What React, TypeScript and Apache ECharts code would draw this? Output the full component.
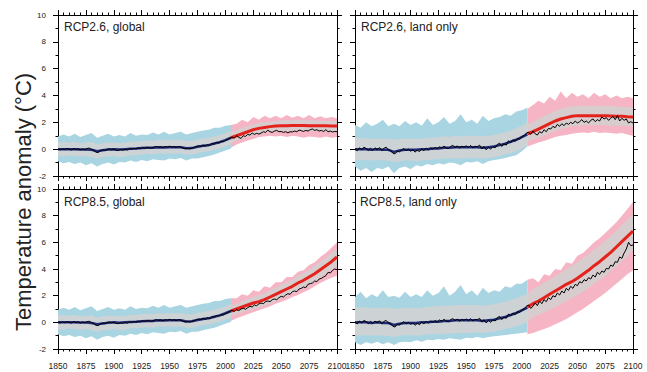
import React, { useEffect, useRef } from "react";
import * as echarts from "echarts";

// ---------- years ----------
const histYears = [
  1850, 1855, 1860, 1865, 1870, 1875, 1880, 1885, 1890, 1895,
  1900, 1905, 1910, 1915, 1920, 1925, 1930, 1935, 1940, 1945,
  1950, 1955, 1960, 1965, 1970, 1975, 1980, 1985, 1990, 1995,
  2000, 2005,
];
const futYears = [
  2005, 2010, 2015, 2020, 2025, 2030, 2035, 2040, 2045, 2050,
  2055, 2060, 2065, 2070, 2075, 2080, 2085, 2090, 2095, 2100,
];
// single-run curves are sampled every second year: 1850, 1852, ..., 2100
const runYears: number[] = [];
for (let y = 1850; y <= 2100; y += 2) runYears.push(y);

// ---------- historical, global ----------
// single run, 1850-2004 (every 2 years)
const globalHistRun = [
  0.0, -0.05, 0.02, -0.03, 0.05, 0.0, -0.06, 0.03, -0.02, 0.04,
  -0.05, 0.02, -0.04, 0.05, 0.08, -0.02, -0.08, -0.22, -0.25, -0.12,
  -0.05, -0.1, -0.02, 0.03, -0.04, 0.02, -0.08, -0.1, -0.03, -0.07,
  -0.02, -0.06, 0.04, 0.0, 0.06, 0.02, 0.08, 0.04, 0.12, 0.07,
  0.14, 0.1, 0.08, 0.15, 0.2, 0.14, 0.18, 0.12, 0.2, 0.16,
  0.22, 0.15, 0.19, 0.13, 0.2, 0.16, 0.08, 0.03, 0.06, 0.02,
  0.08, 0.12, 0.2, 0.25, 0.2, 0.3, 0.22, 0.35, 0.28, 0.42,
  0.38, 0.5, 0.47, 0.58, 0.55, 0.65, 0.72, 0.82,
];
const globalHistMean = [0.0, 0.0, 0.0, 0.0, -0.02, -0.02, -0.05, -0.15, -0.08, -0.03, 0.0, -0.03, 0.0, 0.03, 0.05, 0.08, 0.1, 0.1, 0.15, 0.13, 0.15, 0.15, 0.15, 0.07, 0.08, 0.18, 0.25, 0.3, 0.42, 0.52, 0.68, 0.85];
const globalHistHi = [0.95, 1.1, 0.95, 1.15, 0.9, 1.05, 1.2, 0.85, 1.0, 1.15, 0.95, 1.05, 0.95, 1.2, 1.0, 1.1, 1.05, 1.25, 1.1, 1.3, 1.1, 1.2, 1.3, 1.1, 1.2, 1.3, 1.4, 1.45, 1.6, 1.6, 1.75, 1.8];
const globalHistLo = [-0.9, -1.05, -0.95, -1.1, -1.0, -1.2, -1.05, -1.3, -1.1, -1.0, -1.15, -0.95, -1.0, -0.85, -0.95, -0.8, -0.9, -0.75, -0.8, -0.85, -0.7, -0.75, -0.65, -0.85, -0.7, -0.7, -0.6, -0.5, -0.4, -0.25, -0.1, 0.05];
const globalHistInnerHi = [0.5, 0.55, 0.5, 0.55, 0.45, 0.5, 0.55, 0.35, 0.45, 0.5, 0.5, 0.45, 0.5, 0.55, 0.55, 0.6, 0.65, 0.6, 0.7, 0.65, 0.7, 0.65, 0.7, 0.6, 0.6, 0.7, 0.8, 0.85, 0.95, 1.05, 1.2, 1.35];
const globalHistInnerLo = [-0.5, -0.55, -0.45, -0.5, -0.55, -0.5, -0.6, -0.7, -0.6, -0.55, -0.5, -0.6, -0.55, -0.45, -0.45, -0.4, -0.35, -0.4, -0.3, -0.35, -0.3, -0.35, -0.3, -0.4, -0.4, -0.3, -0.2, -0.15, -0.05, 0.05, 0.2, 0.35];

// ---------- historical, land ----------
const landHistRun = [
  0.0, -0.12, 0.1, -0.05, 0.15, 0.05, -0.1, 0.08, -0.08, 0.1,
  -0.05, 0.12, -0.1, 0.06, 0.15, -0.05, -0.1, -0.3, -0.35, -0.15,
  -0.2, -0.05, 0.05, -0.12, 0.0, -0.15, -0.05, -0.22, -0.08, -0.18,
  0.02, -0.12, 0.08, -0.05, 0.1, 0.0, 0.12, 0.05, 0.18, 0.08,
  0.22, 0.1, 0.05, 0.2, 0.28, 0.12, 0.25, 0.08, 0.22, 0.15,
  0.25, 0.12, 0.28, 0.1, 0.22, 0.18, 0.3, 0.05, 0.2, -0.05,
  0.15, 0.0, 0.2, 0.1, 0.35, 0.45, 0.2, 0.4, 0.3, 0.62,
  0.5, 0.7, 0.58, 0.8, 0.75, 0.95, 1.0, 1.2,
];
const landHistMean = [0.0, 0.0, 0.0, -0.05, 0.0, -0.05, -0.05, -0.2, -0.1, -0.05, -0.05, -0.05, 0.0, 0.0, 0.05, 0.05, 0.1, 0.1, 0.15, 0.15, 0.15, 0.15, 0.15, 0.1, 0.15, 0.2, 0.3, 0.4, 0.55, 0.7, 0.9, 1.1];
const land26HistHi = [1.8, 1.6, 2.0, 1.7, 1.9, 2.2, 1.7, 1.9, 1.7, 2.1, 1.8, 2.0, 1.75, 2.3, 1.8, 2.0, 2.4, 1.9, 2.1, 2.6, 2.0, 2.2, 1.9, 2.5, 2.1, 2.3, 2.4, 2.6, 2.5, 2.8, 2.9, 3.1];
const land26HistLo = [-1.3, -1.6, -1.4, -1.7, -1.4, -1.5, -1.3, -1.8, -1.4, -1.3, -1.5, -1.2, -1.3, -1.1, -1.2, -1.05, -1.15, -1.0, -1.05, -1.2, -0.95, -1.0, -0.9, -1.1, -0.9, -0.8, -0.75, -0.65, -0.55, -0.45, -0.15, 0.2];
const land26HistInnerHi = [0.8, 0.85, 0.8, 0.75, 0.8, 0.75, 0.8, 0.7, 0.75, 0.8, 0.8, 0.75, 0.8, 0.85, 0.85, 0.9, 0.95, 0.9, 1.0, 0.95, 1.0, 1.0, 1.0, 0.95, 1.0, 1.05, 1.15, 1.25, 1.4, 1.55, 1.75, 2.0];
const land26HistInnerLo = [-0.8, -0.85, -0.8, -0.85, -0.8, -0.85, -0.85, -0.95, -0.9, -0.85, -0.85, -0.9, -0.85, -0.8, -0.75, -0.75, -0.7, -0.7, -0.65, -0.7, -0.65, -0.65, -0.65, -0.7, -0.65, -0.6, -0.5, -0.4, -0.3, -0.15, 0.05, 0.3];
const land85HistHi = [1.9, 2.3, 1.8, 2.1, 1.9, 2.4, 1.9, 2.0, 1.85, 2.3, 1.9, 2.1, 1.9, 2.4, 2.0, 2.2, 2.7, 2.0, 2.3, 2.8, 2.1, 2.4, 2.0, 2.6, 2.2, 2.4, 2.3, 2.7, 2.6, 2.9, 2.9, 3.2];
const land85HistLo = [-1.5, -1.7, -1.5, -1.6, -1.45, -1.65, -1.5, -1.7, -1.5, -1.45, -1.5, -1.35, -1.45, -1.3, -1.35, -1.25, -1.3, -1.2, -1.25, -1.3, -1.15, -1.2, -1.1, -1.2, -1.1, -1.05, -1.0, -0.95, -0.9, -0.85, -0.8, -0.75];
const land85HistInnerHi = [1.1, 1.15, 1.1, 1.1, 1.05, 1.1, 1.1, 1.0, 1.05, 1.1, 1.1, 1.05, 1.1, 1.15, 1.2, 1.2, 1.25, 1.25, 1.3, 1.3, 1.3, 1.3, 1.3, 1.25, 1.3, 1.35, 1.45, 1.55, 1.65, 1.8, 1.95, 2.1];
const land85HistInnerLo = [-0.95, -1.0, -0.95, -1.0, -0.95, -1.0, -1.0, -1.1, -1.0, -0.95, -0.95, -1.0, -0.95, -0.9, -0.9, -0.85, -0.85, -0.85, -0.8, -0.8, -0.8, -0.8, -0.75, -0.8, -0.75, -0.7, -0.6, -0.5, -0.4, -0.3, -0.15, 0.0];

// ---------- RCP2.6, global ----------
const g26Mean = [0.85, 1.0, 1.15, 1.3, 1.45, 1.55, 1.62, 1.68, 1.72, 1.74, 1.75, 1.76, 1.76, 1.76, 1.75, 1.75, 1.74, 1.74, 1.73, 1.72];
// single run, 2006-2100 (every 2 years)
const g26Run = [
  0.9, 0.82, 1.0, 0.88, 0.8, 1.0, 0.95, 1.1, 1.05, 1.2,
  1.1, 1.18, 1.12, 1.2, 1.3, 1.25, 1.42, 1.3, 1.25, 1.35,
  1.4, 1.3, 1.32, 1.25, 1.3, 1.22, 1.3, 1.28, 1.35, 1.3,
  1.42, 1.38, 1.32, 1.4, 1.35, 1.45, 1.5, 1.4, 1.45, 1.35,
  1.4, 1.32, 1.45, 1.3, 1.35, 1.28, 1.32, 1.3,
];
const g26Hi = [1.8, 1.9, 2.2, 2.0, 2.4, 2.2, 2.5, 2.3, 2.5, 2.3, 2.55, 2.35, 2.5, 2.3, 2.55, 2.3, 2.45, 2.3, 2.4, 2.3];
const g26Lo = [0.1, 0.35, 0.5, 0.65, 0.75, 0.9, 0.95, 1.0, 0.95, 1.0, 0.9, 1.0, 0.95, 0.85, 0.95, 0.9, 0.85, 0.95, 0.85, 0.9];
const g26InnerHi = [1.3, 1.4, 1.6, 1.7, 1.85, 1.95, 2.0, 2.05, 2.1, 2.15, 2.15, 2.15, 2.2, 2.15, 2.15, 2.15, 2.1, 2.1, 2.1, 2.1];
const g26InnerLo = [0.45, 0.65, 0.8, 0.95, 1.05, 1.15, 1.25, 1.3, 1.35, 1.35, 1.35, 1.4, 1.35, 1.35, 1.35, 1.35, 1.35, 1.3, 1.3, 1.3];

// ---------- RCP8.5, global ----------
const g85Mean = [0.85, 1.0, 1.15, 1.3, 1.45, 1.55, 1.7, 1.9, 2.1, 2.3, 2.5, 2.7, 2.95, 3.15, 3.4, 3.65, 3.95, 4.25, 4.55, 4.9];
const g85Run = [
  0.9, 0.82, 0.95, 0.88, 1.0, 1.05, 0.98, 1.1, 1.2, 1.15,
  1.3, 1.25, 1.38, 1.45, 1.4, 1.55, 1.6, 1.55, 1.7, 1.75,
  1.7, 1.85, 1.95, 1.9, 2.05, 2.15, 2.1, 2.3, 2.35, 2.3,
  2.5, 2.55, 2.65, 2.6, 2.85, 2.9, 2.95, 3.1, 3.05, 3.25,
  3.3, 3.4, 3.5, 3.75, 3.7, 3.9, 4.0, 3.95,
];
const g85Hi = [1.8, 1.8, 2.1, 2.0, 2.4, 2.3, 2.7, 2.6, 3.0, 3.0, 3.4, 3.4, 3.8, 3.9, 4.3, 4.5, 4.9, 5.2, 5.6, 6.0];
const g85Lo = [0.1, 0.3, 0.45, 0.6, 0.75, 0.9, 1.05, 1.2, 1.4, 1.55, 1.7, 1.9, 2.05, 2.25, 2.45, 2.7, 2.95, 3.15, 3.35, 3.5];
const g85InnerHi = [1.3, 1.4, 1.6, 1.75, 1.9, 2.05, 2.2, 2.4, 2.6, 2.8, 3.0, 3.2, 3.5, 3.7, 3.95, 4.25, 4.55, 4.85, 5.2, 5.5];
const g85InnerLo = [0.45, 0.6, 0.75, 0.9, 1.0, 1.1, 1.25, 1.4, 1.6, 1.8, 2.0, 2.2, 2.4, 2.6, 2.85, 3.05, 3.35, 3.65, 3.9, 4.25];

// ---------- RCP2.6, land only ----------
const l26Mean = [1.15, 1.3, 1.5, 1.7, 1.9, 2.1, 2.25, 2.35, 2.45, 2.5, 2.5, 2.5, 2.5, 2.5, 2.5, 2.48, 2.45, 2.45, 2.42, 2.4];
const l26Run = [
  1.25, 1.1, 1.35, 1.15, 1.05, 1.3, 1.2, 1.45, 1.3, 1.55,
  1.5, 1.7, 1.6, 1.85, 1.7, 1.9, 1.75, 1.95, 1.85, 2.0,
  1.9, 2.1, 1.95, 2.05, 2.2, 2.0, 2.1, 1.95, 2.15, 2.25,
  2.05, 2.2, 2.1, 2.4, 2.25, 2.35, 2.15, 2.3, 2.45, 2.2,
  2.5, 2.1, 2.3, 2.15, 2.25, 1.95, 2.05, 1.95,
];
const l26Hi = [3.0, 3.3, 3.6, 3.4, 3.9, 3.6, 4.3, 3.8, 4.2, 3.9, 4.1, 3.8, 4.2, 3.9, 4.1, 3.8, 4.0, 3.8, 3.9, 3.8];
const l26Lo = [0.2, 0.35, 0.5, 0.6, 0.75, 0.9, 1.0, 1.05, 1.15, 1.2, 1.25, 1.2, 1.3, 1.2, 1.25, 1.2, 1.15, 1.2, 1.1, 1.0];
const l26InnerHi = [1.9, 2.0, 2.25, 2.45, 2.65, 2.85, 3.0, 3.1, 3.2, 3.2, 3.25, 3.2, 3.25, 3.2, 3.25, 3.2, 3.2, 3.15, 3.15, 3.1];
const l26InnerLo = [0.6, 0.7, 0.85, 1.0, 1.2, 1.35, 1.5, 1.6, 1.7, 1.75, 1.8, 1.8, 1.8, 1.8, 1.8, 1.75, 1.75, 1.75, 1.7, 1.7];

// ---------- RCP8.5, land only ----------
const l85Mean = [1.15, 1.4, 1.6, 1.85, 2.1, 2.35, 2.6, 2.85, 3.05, 3.3, 3.6, 3.9, 4.25, 4.55, 4.9, 5.25, 5.65, 6.05, 6.45, 6.85];
const l85Run = [
  1.3, 1.05, 1.2, 1.45, 1.25, 1.6, 1.4, 1.7, 1.55, 1.85,
  1.7, 2.0, 1.9, 2.2, 2.05, 2.35, 2.2, 2.55, 2.4, 2.7,
  2.55, 2.85, 2.75, 3.05, 2.95, 3.2, 3.1, 3.35, 3.25, 3.55,
  3.4, 3.75, 3.6, 3.85, 3.75, 4.05, 4.0, 4.3, 4.2, 4.55,
  4.5, 4.9, 4.8, 5.2, 5.5, 6.0, 5.75, 5.8,
];
const l85Hi = [3.2, 3.3, 3.0, 3.6, 3.5, 4.0, 3.9, 4.5, 4.4, 5.0, 5.2, 5.6, 6.0, 6.3, 6.7, 7.1, 7.5, 8.0, 8.5, 9.0];
const l85Lo = [-0.9, -0.8, -0.65, -0.5, -0.35, -0.15, 0.05, 0.25, 0.5, 0.75, 1.0, 1.3, 1.6, 1.9, 2.2, 2.55, 2.9, 3.25, 3.6, 3.9];
const l85InnerHi = [2.1, 2.5, 2.7, 2.95, 3.2, 3.45, 3.7, 4.0, 4.25, 4.5, 4.8, 5.1, 5.45, 5.75, 6.1, 6.45, 6.85, 7.3, 7.7, 8.1];
const l85InnerLo = [0.0, 0.4, 0.55, 0.75, 0.95, 1.15, 1.35, 1.6, 1.8, 2.05, 2.3, 2.6, 2.9, 3.2, 3.5, 3.85, 4.2, 4.6, 5.0, 5.4];

const panelTitles = ["RCP2.6, global", "RCP2.6, land only", "RCP8.5, global", "RCP8.5, land only"];
const yAxisTitle = "Temperature anomaly (°C)";

type Block = { run: number[]; mean: number[]; hi: number[]; lo: number[]; innerHi: number[]; innerLo: number[] };

const panels: { hist: Block; fut: Block }[] = [
  {
    hist: { run: globalHistRun, mean: globalHistMean, hi: globalHistHi, lo: globalHistLo, innerHi: globalHistInnerHi, innerLo: globalHistInnerLo },
    fut: { run: g26Run, mean: g26Mean, hi: g26Hi, lo: g26Lo, innerHi: g26InnerHi, innerLo: g26InnerLo },
  },
  {
    hist: { run: landHistRun, mean: landHistMean, hi: land26HistHi, lo: land26HistLo, innerHi: land26HistInnerHi, innerLo: land26HistInnerLo },
    fut: { run: l26Run, mean: l26Mean, hi: l26Hi, lo: l26Lo, innerHi: l26InnerHi, innerLo: l26InnerLo },
  },
  {
    hist: { run: globalHistRun, mean: globalHistMean, hi: globalHistHi, lo: globalHistLo, innerHi: globalHistInnerHi, innerLo: globalHistInnerLo },
    fut: { run: g85Run, mean: g85Mean, hi: g85Hi, lo: g85Lo, innerHi: g85InnerHi, innerLo: g85InnerLo },
  },
  {
    hist: { run: landHistRun, mean: landHistMean, hi: land85HistHi, lo: land85HistLo, innerHi: land85HistInnerHi, innerLo: land85HistInnerLo },
    fut: { run: l85Run, mean: l85Mean, hi: l85Hi, lo: l85Lo, innerHi: l85InnerHi, innerLo: l85InnerLo },
  },
];

// ---------- styling ----------
const FONT = "'Liberation Sans', Arial, Helvetica, sans-serif";
const C_HIST = "#a9d5e3";
const C_FUT = "#f6b5c4";
const C_HIST_INNER = "#cdd2d5";
const C_FUT_INNER = "#d8cdce";
const C_NAVY = "#1f2a78";
const C_RED = "#e3231c";

const gridBoxes = [
  { left: 58, top: 15, width: 279, height: 161 },
  { left: 355, top: 15, width: 278, height: 161 },
  { left: 58, top: 189, width: 279, height: 160 },
  { left: 355, top: 189, width: 278, height: 160 },
];

const axisLine = { show: true, onZero: false, lineStyle: { color: "#000", width: 1 } };
const tick = { show: true, inside: false, length: 5, lineStyle: { color: "#000", width: 1 } };

function xAxisFor(g: number, position: string, labels: boolean) {
  return {
    type: "value", gridIndex: g, position, min: 1850, max: 2100, interval: 25,
    axisLine, axisTick: tick,
    minorTick: { show: true, splitNumber: 5, length: 2.5, lineStyle: { color: "#000", width: 1 } },
    splitLine: { show: false }, minorSplitLine: { show: false },
    axisLabel: {
      show: labels, margin: 12, fontSize: 8.5, color: "#222", fontFamily: FONT,
      showMinLabel: true, showMaxLabel: true, formatter: (v: number) => String(v),
    },
  };
}

function yAxisFor(g: number, position: string, labels: boolean) {
  return {
    type: "value", gridIndex: g, position, min: -2, max: 10, interval: 2,
    axisLine, axisTick: tick,
    minorTick: { show: true, splitNumber: 2, length: 2.5, lineStyle: { color: "#000", width: 1 } },
    splitLine: { show: false }, minorSplitLine: { show: false },
    axisLabel: { show: labels, margin: 12, fontSize: 8, color: "#222", fontFamily: FONT, showMinLabel: true, showMaxLabel: true },
  };
}

function pairs(xs: number[], ys: number[]) {
  return xs.map((x, i) => [x, ys[i]]);
}

// Shaded range between lo and hi: one polygon built from every [year, lo, hi] row.
function band(g: number, xs: number[], lo: number[], hi: number[], color: string) {
  return {
    type: "custom", xAxisIndex: 2 * g, yAxisIndex: 2 * g, silent: true,
    data: xs.map((x, i) => [x, lo[i], hi[i]]),
    encode: { x: 0, y: [1, 2] },
    renderItem: (params: any, api: any) => {
      if (params.dataIndexInside !== 0) return null;
      const n = params.dataInsideLength;
      const upper: number[][] = [];
      const lower: number[][] = [];
      for (let i = 0; i < n; i++) {
        const x = api.value(0, i);
        upper.push(api.coord([x, api.value(2, i)]));
        lower.push(api.coord([x, api.value(1, i)]));
      }
      return {
        type: "polygon",
        shape: { points: upper.concat(lower.reverse()) },
        style: { fill: color, stroke: null },
      };
    },
  };
}

function line(g: number, xs: number[], ys: number[], color: string, width: number) {
  return {
    type: "line", xAxisIndex: 2 * g, yAxisIndex: 2 * g, data: pairs(xs, ys),
    symbol: "none", showSymbol: false, silent: true, lineStyle: { color, width },
  };
}

function buildOption() {
  const grid = gridBoxes.map((b) => ({ ...b, containLabel: false, outerBoundsMode: "none" }));
  const xAxis: any[] = [];
  const yAxis: any[] = [];
  const series: any[] = [];
  panels.forEach((p, g) => {
    const bottomRow = g >= 2;
    const leftCol = g % 2 === 0;
    xAxis.push(xAxisFor(g, "bottom", bottomRow), xAxisFor(g, "top", false));
    yAxis.push(yAxisFor(g, "left", leftCol), yAxisFor(g, "right", false));
    series.push(
      band(g, histYears, p.hist.lo, p.hist.hi, C_HIST),
      band(g, futYears, p.fut.lo, p.fut.hi, C_FUT),
      band(g, histYears, p.hist.innerLo, p.hist.innerHi, C_HIST_INNER),
      band(g, futYears, p.fut.innerLo, p.fut.innerHi, C_FUT_INNER),
      line(g, histYears, p.hist.mean, C_NAVY, 2.5),
      line(g, futYears, p.fut.mean, C_RED, 3),
      line(g, runYears, p.hist.run.concat(p.fut.run), "#000", 1),
    );
  });

  const titleSpots = [
    { x: 64, y: 21 },
    { x: 361, y: 21 },
    { x: 64, y: 196 },
    { x: 360, y: 196 },
  ];
  const graphic: any[] = panelTitles.map((t, i) => ({
    type: "text", x: titleSpots[i].x, y: titleSpots[i].y, silent: true,
    style: { text: t, fontSize: 12, fontFamily: FONT, fill: "#222", textAlign: "left", textVerticalAlign: "top" },
  }));
  graphic.push({
    type: "text", x: 23, y: 202, rotation: Math.PI / 2, silent: true,
    style: { text: yAxisTitle, fontSize: 22, fontFamily: FONT, fill: "#222", textAlign: "center", textVerticalAlign: "middle" },
  });

  return {
    animation: false,
    backgroundColor: "#fff",
    grid, xAxis, yAxis, series, graphic,
  };
}

export default function App() {
  const ref = useRef<HTMLDivElement>(null);
  useEffect(() => {
    const chart = echarts.init(ref.current!, null, { renderer: "svg" });
    chart.setOption(buildOption() as any);
    return () => chart.dispose();
  }, []);
  return (
    <div
      ref={ref}
      style={{ position: "absolute", left: 0, top: 0, width: 647, height: 372, background: "#fff" }}
    />
  );
}
